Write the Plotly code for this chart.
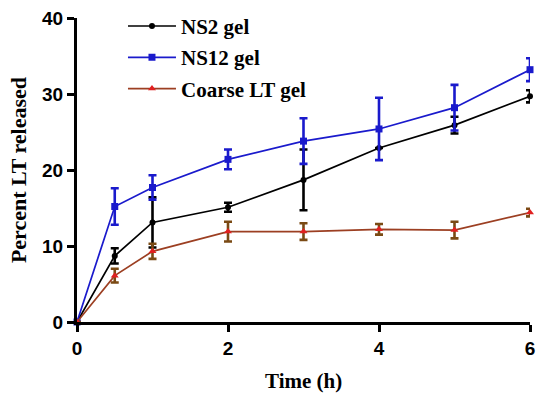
import plotly.graph_objects as go

time_h = [0, 0.5, 1, 2, 3, 4, 5, 6]

ns2_mean = [0, 8.7, 13.1, 15.1, 18.7, 22.9, 25.9, 29.7]
ns2_err = [0, 1.0, 3.3, 0.6, 4.0, 0.0, 1.1, 0.8]

ns12_mean = [0, 15.2, 17.7, 21.4, 23.8, 25.4, 28.2, 33.2]
ns12_err = [0, 2.4, 1.6, 1.3, 3.0, 4.1, 3.0, 1.5]

coarse_mean = [0, 6.1, 9.3, 11.9, 11.9, 12.2, 12.1, 14.4]
coarse_err = [0, 0.9, 1.0, 1.3, 1.1, 0.7, 1.1, 0.5]

x_ticks = [0, 2, 4, 6]
y_ticks = [0, 10, 20, 30, 40]

series = [
    ("NS2 gel", ns2_mean, ns2_err, "#000000", "#000000", "#000000", "circle", 6, "g1"),
    ("NS12 gel", ns12_mean, ns12_err, "#1a1acc", "#1a1acc", "#1a1acc", "square", 7, "g2"),
    ("Coarse LT gel", coarse_mean, coarse_err, "#9c3f22", "#e02020", "#7a4a14", "triangle-up", 7, "g3"),
]

fig = go.Figure()
for name, m, e, lc, mc, ec, sym, ms, grp in series:
    fig.add_trace(go.Scatter(
        x=time_h, y=m, name=name, mode="lines+markers",
        legendgroup=grp,
        line=dict(color=lc, width=1.7),
        marker=dict(symbol=sym, size=ms, color=mc),
        error_y=dict(type="data", array=e, visible=True, color=ec, thickness=2.6, width=4),
        cliponaxis=False,
    ))

serif = "Liberation Serif, Times New Roman, serif"
sans = "Liberation Sans, Arial, sans-serif"

fig.update_layout(
    width=550, height=399,
    margin=dict(l=77, r=20, t=18, b=77, autoexpand=False),
    paper_bgcolor="white", plot_bgcolor="white",
    showlegend=True,
    legend=dict(x=0.1015, y=1.04, xanchor="left", yanchor="top",
                font=dict(family=serif, size=21, color="black", weight="bold"),
                tracegroupgap=1, bgcolor="rgba(0,0,0,0)", itemwidth=48),
    xaxis=dict(range=[0, 6], tickvals=x_ticks, showgrid=False, zeroline=False,
               showline=True, linecolor="black", linewidth=3, automargin=False,
               ticks="outside", ticklen=7, tickwidth=3, tickcolor="black",
               tickfont=dict(family=sans, size=19, color="black", weight="bold")),
    yaxis=dict(range=[0, 40], tickvals=y_ticks, showgrid=False, zeroline=False,
               showline=True, linecolor="black", linewidth=3, automargin=False,
               ticks="outside", ticklen=7, tickwidth=3, tickcolor="black",
               tickfont=dict(family=sans, size=19, color="black", weight="bold")),
    annotations=[
        dict(text="Time (h)", xref="paper", yref="paper", x=0.5, y=-0.195, yanchor="middle",
             xanchor="center", showarrow=False,
             font=dict(family=serif, size=21, color="black", weight="bold")),
        dict(text="Percent LT released", xref="paper", yref="paper", x=-0.13, y=0.5,
             xanchor="center", yanchor="middle", textangle=-90, showarrow=False,
             font=dict(family=serif, size=22, color="black", weight="bold")),
    ],
)

fig.write_html("out.html", config={"displayModeBar": False},
               post_script="document.body.style.margin='0';document.body.style.padding='0';")
